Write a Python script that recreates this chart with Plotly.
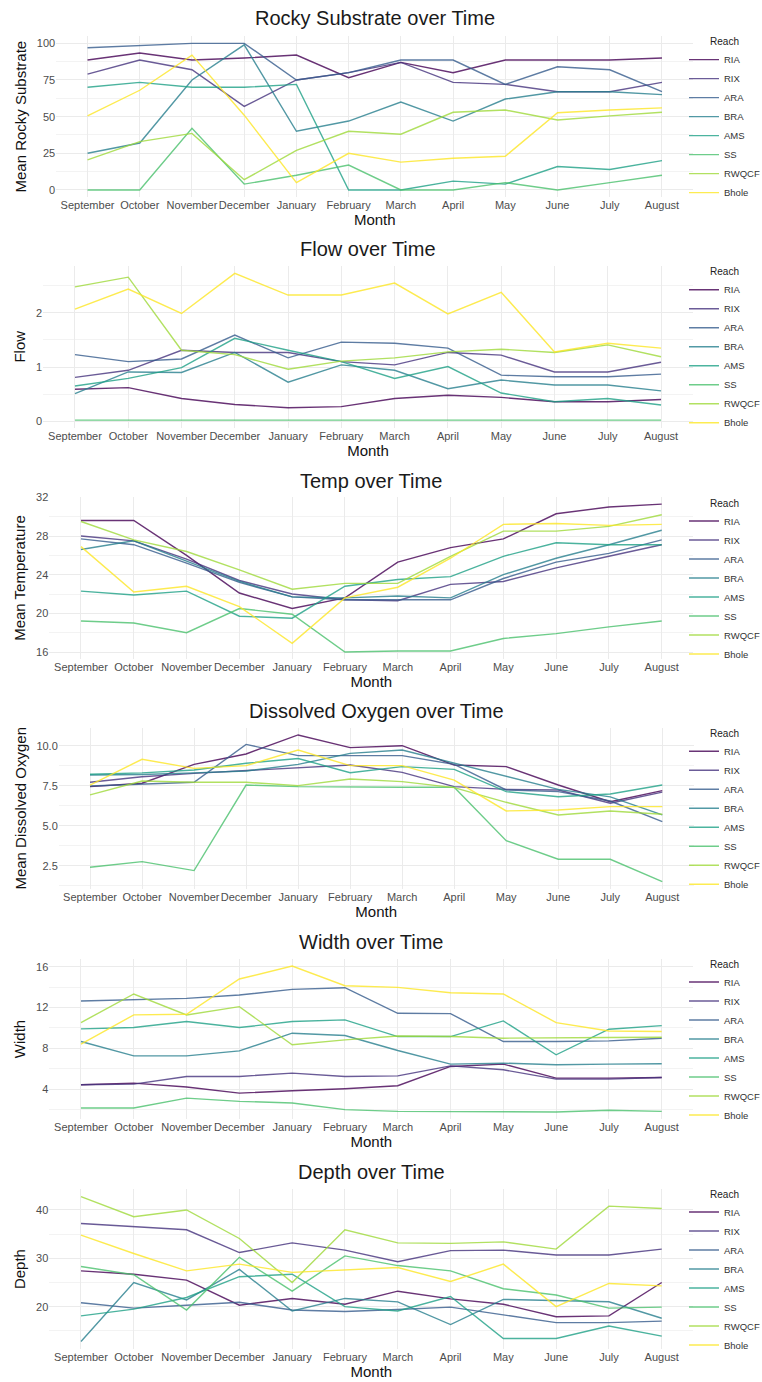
import plotly.graph_objects as go

# ---- categories -----------------------------------------------------------
months = ["September", "October", "November", "December", "January", "February",
          "March", "April", "May", "June", "July", "August"]
reaches = ["RIA", "RIX", "ARA", "BRA", "AMS", "SS", "RWQCF", "Bhole"]
reach_colors = ["#440154", "#46337E", "#365C8D", "#277F8E",
                "#1FA187", "#4AC16D", "#9FDA3A", "#FDE725"]

# ---- monthly means per reach -----------------------------------------------
rocky = {
    "RIA":   [88.6, 93.4, 88.6, 90.0, 92.0, 76.6, 87.0, 80.0, 88.6, 88.6, 88.6, 90.0],
    "RIX":   [79.0, 88.6, 82.0, 57.0, 75.0, 80.0, 87.0, 73.4, 72.0, 67.0, 67.0, 73.4],
    "ARA":   [97.0, 98.4, 100.0, 100.0, 75.0, 80.0, 88.6, 88.6, 72.0, 84.0, 82.0, 67.0],
    "BRA":   [25.0, 32.0, 75.0, 99.0, 40.0, 47.0, 60.0, 47.0, 62.0, 67.0, 67.0, 65.0],
    "AMS":   [70.0, 73.4, 70.0, 70.0, 72.0, 0.0, 0.0, 6.0, 4.0, 16.0, 14.0, 20.0],
    "SS":    [0.0, 0.0, 42.0, 4.0, 10.0, 17.0, 0.0, 0.0, 5.0, 0.0, 5.0, 10.0],
    "RWQCF": [20.5, 33.0, 38.6, 7.0, 27.0, 40.0, 38.0, 53.0, 54.5, 47.7, 50.5, 53.0],
    "Bhole": [50.5, 68.0, 92.0, 51.0, 5.0, 25.0, 19.0, 21.6, 23.0, 52.7, 54.5, 56.0],
}

flow = {
    "RIA":   [0.59, 0.62, 0.42, 0.31, 0.25, 0.27, 0.42, 0.48, 0.44, 0.36, 0.36, 0.40],
    "RIX":   [0.81, 0.94, 1.31, 1.27, 1.27, 1.10, 1.04, 1.27, 1.22, 0.91, 0.91, 1.09],
    "ARA":   [1.23, 1.10, 1.15, 1.59, 1.17, 1.46, 1.44, 1.35, 0.85, 0.82, 0.82, 0.87],
    "BRA":   [0.51, 0.91, 0.90, 1.27, 0.72, 1.04, 0.94, 0.60, 0.76, 0.67, 0.67, 0.56],
    "AMS":   [0.65, 0.79, 0.99, 1.53, 1.31, 1.10, 0.79, 1.01, 0.52, 0.36, 0.42, 0.30],
    "SS":    [0.02, 0.02, 0.02, 0.02, 0.02, 0.02, 0.02, 0.02, 0.02, 0.02, 0.02, 0.02],
    "RWQCF": [2.48, 2.66, 1.31, 1.23, 0.96, 1.11, 1.17, 1.28, 1.33, 1.27, 1.41, 1.19],
    "Bhole": [2.07, 2.44, 1.99, 2.73, 2.33, 2.33, 2.55, 1.98, 2.38, 1.28, 1.44, 1.35],
}

temp = {
    "RIA":   [29.6, 29.6, 26.0, 22.1, 20.5, 21.6, 25.3, 26.8, 27.7, 30.3, 31.0, 31.3],
    "RIX":   [28.0, 27.5, 25.6, 23.4, 22.0, 21.4, 21.3, 23.0, 23.3, 24.7, 25.9, 27.1],
    "ARA":   [27.7, 27.1, 25.2, 23.2, 21.7, 21.4, 21.4, 21.4, 23.6, 25.3, 26.2, 27.6],
    "BRA":   [26.6, 27.5, 25.4, 23.3, 21.7, 21.6, 21.8, 21.6, 24.0, 25.7, 27.1, 28.6],
    "AMS":   [22.3, 21.9, 22.3, 19.7, 19.5, 22.8, 23.5, 23.8, 25.9, 27.3, 27.1, 27.1],
    "SS":    [19.2, 19.0, 18.0, 20.5, 19.9, 16.0, 16.1, 16.1, 17.4, 17.9, 18.6, 19.2],
    "RWQCF": [29.5, 27.6, 26.4, 24.5, 22.5, 23.1, 23.1, 25.9, 28.5, 28.5, 29.0, 30.2],
    "Bhole": [26.9, 22.2, 22.8, 20.7, 16.9, 21.6, 22.7, 25.7, 29.2, 29.3, 29.1, 29.2],
}

oxygen = {
    "RIA":   [7.44, 7.65, 8.83, 9.48, 10.67, 9.88, 10.00, 8.79, 8.69, 7.54, 6.50, 7.19],
    "RIX":   [7.71, 8.06, 8.27, 8.44, 8.58, 8.79, 8.33, 7.44, 7.27, 7.23, 6.40, 7.10],
    "ARA":   [7.48, 7.60, 7.71, 10.08, 9.38, 9.38, 9.38, 8.83, 7.23, 7.13, 6.54, 5.25],
    "BRA":   [8.17, 8.20, 8.30, 8.42, 8.83, 9.52, 9.73, 8.90, 8.06, 7.27, 6.80, 5.67],
    "AMS":   [8.21, 8.30, 8.48, 8.90, 9.20, 8.31, 8.69, 8.52, 7.13, 6.81, 6.98, 7.54],
    "SS":    [2.40, 2.75, 2.19, 7.54, 7.44, 7.40, 7.40, 7.40, 4.06, 2.90, 2.90, 1.50],
    "RWQCF": [6.92, 7.79, 7.71, 7.71, 7.50, 7.92, 7.75, 7.38, 6.46, 5.67, 5.92, 5.71],
    "Bhole": [7.54, 9.15, 8.58, 8.75, 9.73, 8.75, 8.75, 7.85, 5.92, 5.98, 6.19, 6.19],
}

width = {
    "RIA":   [4.44, 4.60, 4.21, 3.62, 3.85, 4.05, 4.34, 6.23, 6.46, 5.09, 5.09, 5.15],
    "RIX":   [4.44, 4.50, 5.25, 5.25, 5.58, 5.25, 5.31, 6.29, 5.90, 4.99, 4.99, 5.15],
    "ARA":   [12.64, 12.74, 12.90, 13.23, 13.78, 13.95, 11.44, 11.41, 8.67, 8.67, 8.74, 9.00],
    "BRA":   [8.67, 7.27, 7.27, 7.76, 9.49, 9.26, 7.79, 6.46, 6.55, 6.39, 6.46, 6.49],
    "AMS":   [9.91, 10.04, 10.63, 10.04, 10.63, 10.79, 9.16, 9.16, 10.69, 7.37, 9.88, 10.23],
    "SS":    [2.16, 2.16, 3.13, 2.81, 2.65, 2.00, 1.83, 1.83, 1.83, 1.77, 1.93, 1.83],
    "RWQCF": [10.53, 13.33, 11.28, 12.09, 8.35, 8.83, 9.22, 9.16, 9.00, 9.06, 9.06, 9.09],
    "Bhole": [8.41, 11.28, 11.34, 14.80, 16.07, 14.14, 13.98, 13.46, 13.33, 10.53, 9.71, 9.65],
}

depth = {
    "RIA":   [27.4, 26.7, 25.5, 20.3, 21.7, 20.5, 23.2, 21.6, 20.5, 17.9, 18.1, 25.0],
    "RIX":   [37.2, 36.6, 35.9, 31.2, 33.2, 31.7, 29.3, 31.6, 31.7, 30.7, 30.7, 31.9],
    "ARA":   [20.8, 19.7, 20.3, 20.9, 19.3, 19.0, 19.4, 19.9, 18.3, 16.7, 16.7, 17.0],
    "BRA":   [12.8, 25.0, 21.4, 27.7, 19.1, 21.7, 21.0, 16.3, 21.5, 21.2, 21.0, 17.6],
    "AMS":   [18.1, 19.5, 21.9, 26.2, 26.7, 20.0, 19.1, 22.1, 13.4, 13.4, 16.0, 13.9],
    "SS":    [28.3, 26.6, 19.3, 30.2, 23.2, 30.5, 28.5, 27.4, 23.7, 22.4, 19.7, 19.9],
    "RWQCF": [42.76, 38.6, 40.0, 34.1, 25.0, 35.9, 33.2, 33.1, 33.4, 31.9, 40.8, 40.3],
    "Bhole": [34.8, 31.0, 27.4, 28.8, 27.1, 27.6, 28.1, 25.2, 28.8, 20.0, 24.8, 24.3],
}

# ---- page geometry (pixels) ------------------------------------------------
W, H = 762, 1382
FONT = "Liberation Sans, Arial, sans-serif"
GRID = "#EBEBEB"
MINOR = "#F3F3F3"

panels = [
    dict(data=rocky, title="Rocky Substrate over Time", ytitle="Mean Rocky Substrate",
         box=(56.2, 693.3, 36.0, 197.3), yrange=[-5, 105], dtick=25, fmt="", ty=18),
    dict(data=flow, title="Flow over Time", ytitle="Flow",
         box=(43.0, 693.0, 266.0, 427.5), yrange=[-0.116, 2.866], dtick=1, fmt="", ty=249),
    dict(data=temp, title="Temp over Time", ytitle="Mean Temperature",
         box=(49.3, 693.4, 496.7, 659.4), yrange=[15.235, 32.065], dtick=4, fmt="", ty=481),
    dict(data=oxygen, title="Dissolved Oxygen over Time", ytitle="Mean Dissolved Oxygen",
         box=(58.8, 693.5, 727.6, 889.0), yrange=[1.04, 11.13], dtick=2.5, fmt=".1f", ty=711),
    dict(data=width, title="Width over Time", ytitle="Width",
         box=(49.3, 693.4, 958.7, 1119.3), yrange=[1.05, 16.79], dtick=4, fmt="", ty=942),
    dict(data=depth, title="Depth over Time", ytitle="Depth",
         box=(49.3, 693.4, 1189.4, 1348.7), yrange=[11.3, 44.26], dtick=10, fmt="", ty=1172),
]

fig = go.Figure()
layout = dict(
    width=W, height=H,
    margin=dict(l=0, r=0, t=0, b=0, autoexpand=False),
    paper_bgcolor="white", plot_bgcolor="white",
    font=dict(family=FONT, color="#222222"),
    annotations=[],
)

for i, p in enumerate(panels, start=1):
    sfx = "" if i == 1 else str(i)
    left, right, top, bottom = p["box"]
    legend_name = "legend" + sfx

    for reach, color in zip(reaches, reach_colors):
        fig.add_trace(go.Scatter(
            x=months, y=p["data"][reach], mode="lines", name=reach,
            line=dict(color=color, width=1.4), opacity=0.8,
            xaxis="x" + sfx, yaxis="y" + sfx, legend=legend_name,
            hovertemplate=reach + "<br>%{x}: %{y}<extra></extra>",
        ))

    layout["xaxis" + sfx] = dict(
        domain=[left / W, right / W], anchor="y" + sfx,
        type="category", categoryorder="array", categoryarray=months,
        range=[-0.6, len(months) - 0.4],
        showgrid=True, gridcolor=GRID, gridwidth=1,
        zeroline=False, showline=False, ticks="", tickangle=0,
        automargin=False,
        tickfont=dict(size=11, color="#4D4D4D"),
        title=dict(text="Month", font=dict(size=15, color="#111111"), standoff=2),
    )
    layout["yaxis" + sfx] = dict(
        domain=[1 - bottom / H, 1 - top / H], anchor="x" + sfx,
        range=p["yrange"], tick0=0, dtick=p["dtick"], tickformat=p["fmt"],
        showgrid=True, gridcolor=GRID, gridwidth=1,
        minor=dict(dtick=p["dtick"] / 2, tick0=0, showgrid=True,
                   gridcolor=MINOR, gridwidth=0.7),
        zeroline=False, showline=False, ticks="",
        automargin=False,
        tickfont=dict(size=11, color="#4D4D4D"),
        title=dict(text=p["ytitle"], font=dict(size=15, color="#111111"), standoff=6),
    )
    layout[legend_name] = dict(
        x=684 / W, xanchor="left",
        y=1 - ((top + bottom) / 2 + 3) / H, yanchor="middle",
        bgcolor="rgba(0,0,0,0)",
        font=dict(size=9.5, color="#333333"),
        title=dict(text="Reach", font=dict(size=10, color="#222222"), side="top center"),
        itemwidth=30, tracegroupgap=0,
    )
    layout["annotations"].append(dict(
        text=p["title"], xref="paper", yref="paper",
        x=((left + right) / 2) / W, y=1 - p["ty"] / H,
        xanchor="center", yanchor="middle", showarrow=False,
        font=dict(size=20, color="#1A1A1A"),
    ))

fig.update_layout(**layout)
fig.write_html("out.html")
